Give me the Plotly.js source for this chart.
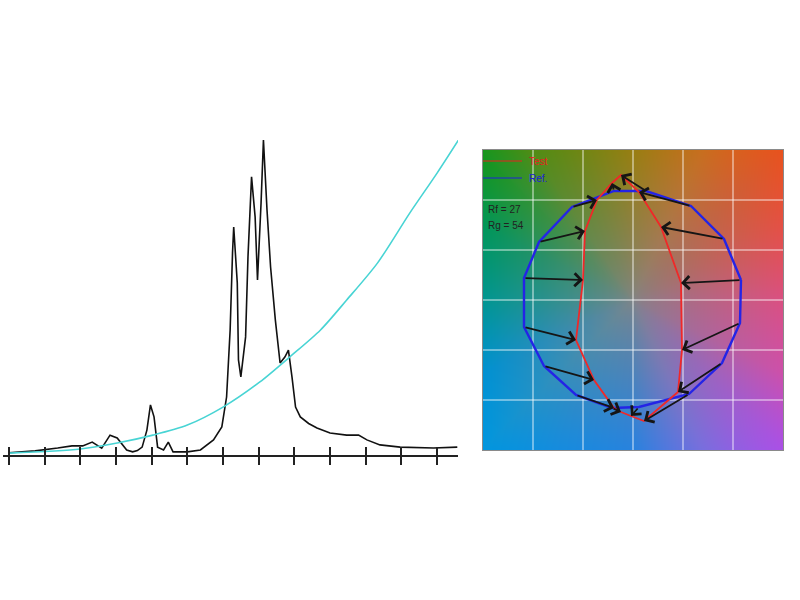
<!DOCTYPE html>
<html>
<head>
<meta charset="utf-8">
<script src="https://cdn.plot.ly/plotly-3.0.1.min.js"></script>
<style>html,body{margin:0;padding:0;background:#fff;}#chart{width:800px;height:600px;}</style>
</head>
<body>
<div id="chart"></div>
<script>
// ---- Spectrum (left panel) ----
const wavelengths = [400, 422, 441, 453, 462, 470, 478, 485, 491, 496, 499, 504, 508, 512, 516, 519, 522, 525, 530, 534, 538, 550, 561, 572, 579, 583, 586, 588, 589, 592, 593, 595, 599, 601, 604, 607, 609, 612, 614, 617, 620, 624, 628, 632, 635, 638, 641, 645, 652, 659, 670, 684, 694, 701, 712, 729, 757, 777];
const spd = [0.007, 0.013, 0.022, 0.029, 0.029, 0.041, 0.022, 0.063, 0.054, 0.030, 0.016, 0.010, 0.014, 0.025, 0.079, 0.159, 0.121, 0.025, 0.016, 0.041, 0.010, 0.010, 0.016, 0.048, 0.089, 0.184, 0.397, 0.641, 0.724, 0.546, 0.302, 0.248, 0.375, 0.629, 0.883, 0.756, 0.556, 0.800, 1.000, 0.778, 0.597, 0.429, 0.292, 0.311, 0.333, 0.248, 0.152, 0.121, 0.100, 0.086, 0.070, 0.063, 0.063, 0.048, 0.032, 0.025, 0.022, 0.025];
const refWl = [400, 460, 491, 521, 550, 580, 611, 636, 662, 684, 710, 737, 760, 778];
const refSpd = [0.006, 0.019, 0.038, 0.063, 0.095, 0.152, 0.232, 0.311, 0.397, 0.492, 0.610, 0.768, 0.895, 1.000];

// ---- Colour vector graphic (right panel), 16 hue bins ----
const refX  = [1.08, 0.91, 0.58, 0.13, -0.19, -0.61, -0.94, -1.09, -1.09, -0.89, -0.57, -0.21, 0.06, 0.56, 0.89, 1.07];
const refY  = [0.20, 0.61, 0.94, 1.09, 1.09, 0.93, 0.58, 0.22, -0.27, -0.66, -0.95, -1.08, -1.07, -0.94, -0.63, -0.23];
const testX = [0.48, 0.28, 0.06, -0.12, -0.21, -0.36, -0.48, -0.50, -0.57, -0.39, -0.19, -0.12, -0.02, 0.11, 0.45, 0.49];
const testY = [0.17, 0.73, 1.08, 1.25, 1.17, 1.00, 0.69, 0.20, -0.40, -0.80, -1.08, -1.12, -1.16, -1.21, -0.92, -0.50];
const legendLabels = ["Test", "Ref."];
const metricLabels = ["Rf = 27", "Rg = 54"];

// background hue anchors (angle in degrees, rgb)
const bgAngles = [-154, -136, -118, -90, -65, -45, -26, 0, 26, 45, 65, 90, 124, 136, 154, 180];
const bgColors = [[0,145,210],[0,150,222],[20,140,222],[40,130,222],[120,110,222],[170,80,230],[205,80,170],[218,80,130],[228,80,70],[232,82,30],[200,110,30],[152,126,18],[80,140,20],[20,150,30],[0,150,90],[0,150,145]];

function hueColor(deg) {
  const n = bgAngles.length;
  for (let i = 0; i < n; i++) {
    const a0 = bgAngles[i];
    const a1 = (i === n - 1) ? bgAngles[0] + 360 : bgAngles[i + 1];
    let d = deg;
    if (i === n - 1 && d < a0) d += 360;
    if (d >= a0 && d <= a1) {
      const t = (d - a0) / (a1 - a0);
      const c0 = bgColors[i], c1 = bgColors[(i + 1) % n];
      return [c0[0] + (c1[0] - c0[0]) * t, c0[1] + (c1[1] - c0[1]) * t, c0[2] + (c1[2] - c0[2]) * t];
    }
  }
  return bgColors[0];
}
function makeBackground() {
  const N = 300;
  const cv = document.createElement('canvas');
  cv.width = N; cv.height = N;
  const ctx = cv.getContext('2d');
  const img = ctx.createImageData(N, N);
  const gray = [128, 132, 134];
  for (let j = 0; j < N; j++) {
    for (let i = 0; i < N; i++) {
      const x = (i + 0.5) / N * 3 - 1.5;
      const y = 1.5 - (j + 0.5) / N * 3;
      const r = Math.hypot(x, y);
      const th = Math.atan2(y, x);
      const deg = th * 180 / Math.PI;
      const R = 1.5 / Math.max(Math.abs(Math.cos(th)), Math.abs(Math.sin(th)));
      const f = Math.pow(Math.min(1, r / R), 0.75);
      const c = hueColor(deg);
      const k = (j * N + i) * 4;
      img.data[k] = gray[0] + (c[0] - gray[0]) * f;
      img.data[k + 1] = gray[1] + (c[1] - gray[1]) * f;
      img.data[k + 2] = gray[2] + (c[2] - gray[2]) * f;
      img.data[k + 3] = 255;
    }
  }
  ctx.putImageData(img, 0, 0);
  return cv.toDataURL('image/png');
}

const closeX = a => a.concat([a[0]]);

const traces = [
  {x: refWl, y: refSpd, xaxis: 'x3', yaxis: 'y', type: 'scatter', mode: 'lines',
   line: {color: '#48d4d4', width: 1.6, shape: 'spline', smoothing: 0.8}, hoverinfo: 'skip'},
  {x: wavelengths, y: spd, xaxis: 'x', yaxis: 'y', type: 'scatter', mode: 'lines',
   line: {color: '#111111', width: 1.6}, hoverinfo: 'skip'},
  {x: closeX(refX), y: closeX(refY), xaxis: 'x2', yaxis: 'y2', type: 'scatter', mode: 'lines',
   line: {color: '#2424e6', width: 2.4}, hoverinfo: 'skip'},
  {x: closeX(testX), y: closeX(testY), xaxis: 'x2', yaxis: 'y2', type: 'scatter', mode: 'lines',
   line: {color: '#f02828', width: 1.8}, hoverinfo: 'skip'}
];

const annotations = refX.map((_, i) => ({
  x: testX[i], y: testY[i], ax: refX[i], ay: refY[i],
  xref: 'x2', yref: 'y2', axref: 'x2', ayref: 'y2',
  text: '', showarrow: true, arrowhead: 4, arrowsize: 1.4, arrowwidth: 1.8, arrowcolor: '#151515'
}));
annotations.push(
  {x: -1.06, y: 1.39, xref: 'x2', yref: 'y2', text: legendLabels[0], showarrow: false, xanchor: 'left',
   font: {family: 'Liberation Sans, Arial, sans-serif', size: 10, color: '#e82020'}},
  {x: -1.06, y: 1.22, xref: 'x2', yref: 'y2', text: legendLabels[1], showarrow: false, xanchor: 'left',
   font: {family: 'Liberation Sans, Arial, sans-serif', size: 10, color: '#2020d8'}},
  {x: -1.47, y: 0.91, xref: 'x2', yref: 'y2', text: metricLabels[0], showarrow: false, xanchor: 'left',
   font: {family: 'Liberation Sans, Arial, sans-serif', size: 10, color: '#222'}},
  {x: -1.47, y: 0.75, xref: 'x2', yref: 'y2', text: metricLabels[1], showarrow: false, xanchor: 'left',
   font: {family: 'Liberation Sans, Arial, sans-serif', size: 10, color: '#222'}}
);

const shapes = [
  {type: 'line', xref: 'x2', yref: 'y2', x0: -1.51, x1: -1.11, y0: 1.39, y1: 1.39, line: {color: '#e82020', width: 1.2}},
  {type: 'line', xref: 'x2', yref: 'y2', x0: -1.51, x1: -1.11, y0: 1.22, y1: 1.22, line: {color: '#2020d8', width: 1.2}}
];

const xr = [395, 777.6];
const layout = {
  width: 800, height: 600,
  margin: {l: 0, r: 0, t: 0, b: 0},
  paper_bgcolor: '#ffffff', plot_bgcolor: 'rgba(0,0,0,0)',
  showlegend: false,
  xaxis: {domain: [0.00375, 0.5725], range: xr, anchor: 'y', showgrid: false, zeroline: false,
          showline: true, linecolor: '#222', linewidth: 2,
          tickmode: 'linear', tick0: 400, dtick: 30, ticks: 'outside', ticklen: 8, tickwidth: 1.8, tickcolor: '#222',
          showticklabels: false},
  xaxis3: {overlaying: 'x', anchor: 'y', side: 'bottom', range: xr, showgrid: false, zeroline: false, showline: false,
           tickmode: 'linear', tick0: 400, dtick: 30, ticks: 'inside', ticklen: 8, tickwidth: 1.8, tickcolor: '#222',
           showticklabels: false},
  yaxis: {domain: [0.241667, 0.766667], range: [0, 1], visible: false},
  xaxis2: {domain: [0.60375, 0.97875], range: [-1.5, 1.5], anchor: 'y2',
           tickmode: 'linear', tick0: 0, dtick: 0.5, showticklabels: false, ticks: '',
           showgrid: true, gridcolor: 'rgba(255,255,255,0.42)', gridwidth: 1.5, zeroline: false,
           showline: true, mirror: true, linecolor: '#8a8a8a', linewidth: 1},
  yaxis2: {domain: [0.25, 0.75], range: [-1.5, 1.5], anchor: 'x2',
           tickmode: 'linear', tick0: 0, dtick: 0.5, showticklabels: false, ticks: '',
           showgrid: true, gridcolor: 'rgba(255,255,255,0.42)', gridwidth: 1.5, zeroline: false,
           showline: true, mirror: true, linecolor: '#8a8a8a', linewidth: 1},
  images: [{source: makeBackground(), xref: 'x2', yref: 'y2', x: -1.5, y: 1.5, sizex: 3, sizey: 3,
            sizing: 'stretch', layer: 'below', xanchor: 'left', yanchor: 'top'}],
  annotations: annotations,
  shapes: shapes
};

Plotly.newPlot('chart', traces, layout, {staticPlot: true, displayModeBar: false});
</script>
</body>
</html>
